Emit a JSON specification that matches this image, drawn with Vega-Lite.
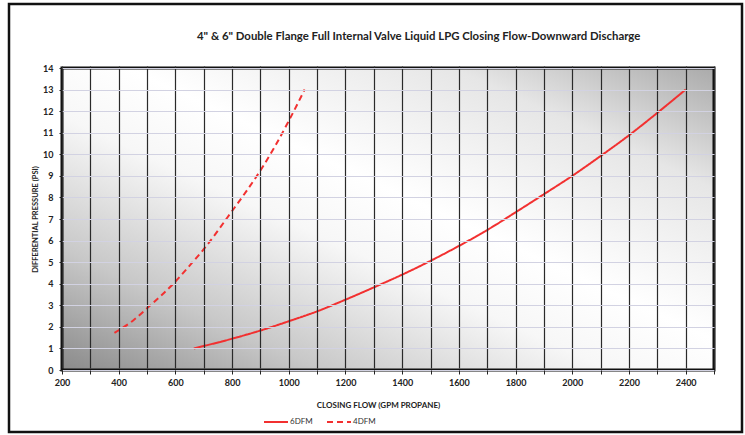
{
  "$schema": "https://vega.github.io/schema/vega-lite/v6.json",
  "width": 733,
  "height": 428,
  "autosize": {"type": "none"},
  "padding": {"left": 9, "top": 4, "right": 3, "bottom": 3},
  "background": "white",
  "config": {
    "view": {"stroke": "#111111", "strokeWidth": 2.5, "fill": "white"},
    "font": "Lato"
  },
  "title": {
    "text": "4\" & 6\" Double Flange Full Internal Valve Liquid LPG Closing Flow-Downward Discharge",
    "anchor": "start",
    "frame": "group",
    "dx": 188,
    "offset": -38,
    "font": "Lato",
    "fontSize": 11.4,
    "fontWeight": "bold",
    "color": "#222222"
  },
  "datasets": {
    "curves": [
      {"series": "6DFM", "flow": 665, "psi": 1.0},
      {"series": "6DFM", "flow": 800, "psi": 1.45},
      {"series": "6DFM", "flow": 900, "psi": 1.83},
      {"series": "6DFM", "flow": 1000, "psi": 2.26},
      {"series": "6DFM", "flow": 1100, "psi": 2.72},
      {"series": "6DFM", "flow": 1200, "psi": 3.26},
      {"series": "6DFM", "flow": 1300, "psi": 3.83},
      {"series": "6DFM", "flow": 1400, "psi": 4.42},
      {"series": "6DFM", "flow": 1500, "psi": 5.06},
      {"series": "6DFM", "flow": 1600, "psi": 5.75},
      {"series": "6DFM", "flow": 1700, "psi": 6.49},
      {"series": "6DFM", "flow": 1800, "psi": 7.31},
      {"series": "6DFM", "flow": 1900, "psi": 8.15},
      {"series": "6DFM", "flow": 2000, "psi": 9.0},
      {"series": "6DFM", "flow": 2100, "psi": 9.92},
      {"series": "6DFM", "flow": 2200, "psi": 10.88},
      {"series": "6DFM", "flow": 2300, "psi": 11.92},
      {"series": "6DFM", "flow": 2400, "psi": 13.0},
      {"series": "4DFM", "flow": 385, "psi": 1.72},
      {"series": "4DFM", "flow": 452, "psi": 2.31},
      {"series": "4DFM", "flow": 500, "psi": 2.86},
      {"series": "4DFM", "flow": 600, "psi": 4.1},
      {"series": "4DFM", "flow": 651, "psi": 4.85},
      {"series": "4DFM", "flow": 700, "psi": 5.6},
      {"series": "4DFM", "flow": 800, "psi": 7.37},
      {"series": "4DFM", "flow": 850, "psi": 8.28},
      {"series": "4DFM", "flow": 900, "psi": 9.25},
      {"series": "4DFM", "flow": 950, "psi": 10.34},
      {"series": "4DFM", "flow": 1000, "psi": 11.55},
      {"series": "4DFM", "flow": 1056, "psi": 13.0}
    ]
  },
  "layer": [
    {
      "data": {"values": [{}]},
      "mark": {
        "type": "rect",
        "color": {
          "gradient": "linear",
          "x1": 0, "y1": 1, "x2": 1, "y2": 0,
          "stops": [
            {"offset": 0, "color": "#8a8a8a"},
            {"offset": 0.2, "color": "#c8c8c8"},
            {"offset": 0.42, "color": "#f7f7f7"},
            {"offset": 0.55, "color": "#ffffff"},
            {"offset": 0.8, "color": "#e6e6e6"},
            {"offset": 1, "color": "#aaaaaa"}
          ]
        }
      },
      "encoding": {
        "x": {
          "datum": 200,
          "type": "quantitative",
          "scale": {"domain": [200, 2500], "range": [53, 705], "nice": false, "zero": false},
          "axis": {
            "values": [200, 300, 400, 500, 600, 700, 800, 900, 1000, 1100, 1200, 1300, 1400, 1500, 1600, 1700, 1800, 1900, 2000, 2100, 2200, 2300, 2400, 2500],
            "tickCount": 40,
            "format": "d",
            "labelExpr": "datum.value % 200 == 0 && datum.value < 2500 ? datum.label : ''",
            "grid": true,
            "gridColor": "#2a2a2a",
            "gridWidth": 1.2,
            "gridOpacity": 1,
            "domain": false,
            "ticks": true,
            "tickSize": 4,
            "tickColor": "#222222",
            "labelFont": "Lato",
            "labelFontWeight": "bold",
            "labelFontSize": 9,
            "labelColor": "#222222",
            "labelPadding": 4,
            "labelFlush": false,
            "labelOverlap": false,
            "offset": -62,
            "zindex": 1,
            "title": "CLOSING FLOW (GPM PROPANE)",
            "titleFont": "Lato",
            "titleFontSize": 8,
            "titleFontWeight": "bold",
            "titleColor": "#222222",
            "titleX": 369,
            "titleY": 37,
            "titleAlign": "center",
            "titleBaseline": "alphabetic"
          }
        },
        "x2": {"datum": 2500},
        "y": {
          "datum": 0,
          "type": "quantitative",
          "scale": {"domain": [0, 14], "range": [366, 64], "nice": false},
          "axis": {
            "values": [0, 1, 2, 3, 4, 5, 6, 7, 8, 9, 10, 11, 12, 13, 14],
            "tickCount": 40,
            "format": "d",
            "grid": true,
            "gridColor": "#d2d2e2",
            "gridWidth": 1,
            "gridOpacity": 1,
            "domain": false,
            "ticks": true,
            "tickSize": 3,
            "tickColor": "#222222",
            "labelFont": "Lato",
            "labelFontWeight": "bold",
            "labelFontSize": 9,
            "labelColor": "#222222",
            "labelPadding": 6,
            "labelOverlap": false,
            "offset": -53,
            "zindex": 1,
            "title": "DIFFERENTIAL PRESSURE (PSI)",
            "titleFont": "Lato",
            "titleFontSize": 7.5,
            "titleFontWeight": "bold",
            "titleColor": "#222222",
            "titleX": -27,
            "titleY": 215,
            "titleAlign": "center",
            "titleBaseline": "middle",
            "titleAngle": 270
          }
        },
        "y2": {"datum": 14}
      }
    },
    {
      "data": {"name": "curves"},
      "mark": {"type": "line", "strokeWidth": 2, "interpolate": "monotone"},
      "encoding": {
        "x": {"field": "flow", "type": "quantitative"},
        "y": {"field": "psi", "type": "quantitative"},
        "color": {
          "field": "series",
          "type": "nominal",
          "scale": {"domain": ["6DFM", "4DFM"], "range": ["#f23030", "#f23030"]},
          "legend": {
            "orient": "none",
            "legendX": 254,
            "legendY": 405,
            "direction": "horizontal",
            "title": null,
            "symbolType": "stroke",
            "symbolStrokeWidth": 2,
            "symbolSize": 576,
            "labelFont": "Lato",
            "labelFontSize": 8,
            "labelColor": "#333333",
            "labelOffset": 1,
            "columnPadding": 10
          }
        },
        "strokeDash": {
          "field": "series",
          "type": "nominal",
          "scale": {"domain": ["6DFM", "4DFM"], "range": [[1, 0], [6, 4]]},
          "legend": {
            "orient": "none",
            "legendX": 254,
            "legendY": 405,
            "direction": "horizontal",
            "title": null,
            "symbolType": "stroke",
            "symbolStrokeWidth": 2,
            "symbolSize": 576,
            "labelFont": "Lato",
            "labelFontSize": 8,
            "labelColor": "#333333",
            "labelOffset": 1,
            "columnPadding": 10
          }
        }
      }
    },
    {
      "data": {"values": [{}]},
      "mark": {"type": "rect", "fillOpacity": 0, "stroke": "#111111", "strokeWidth": 3},
      "encoding": {
        "x": {"datum": 200, "type": "quantitative"},
        "x2": {"datum": 2500},
        "y": {"datum": 0, "type": "quantitative"},
        "y2": {"datum": 14}
      }
    }
  ]
}
